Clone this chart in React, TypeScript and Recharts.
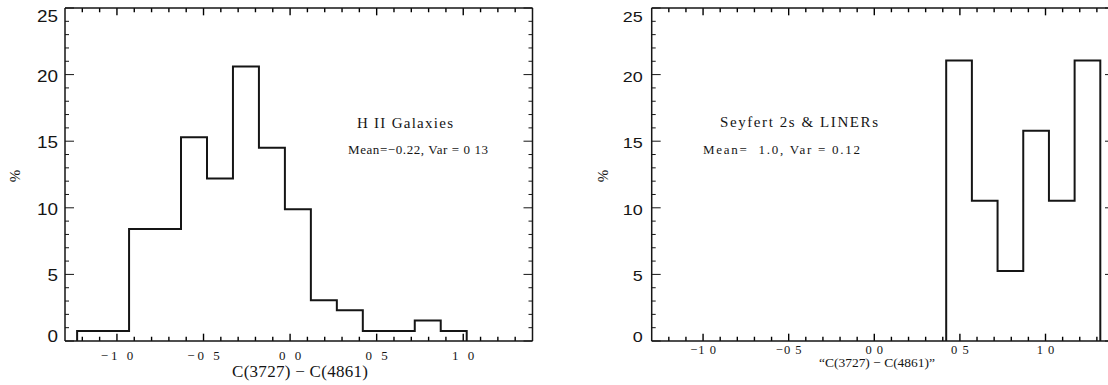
import { Line, LineChart, ReferenceLine, XAxis, YAxis } from 'recharts';

// H II galaxies: bin edges and percentages
const hiiEdges = [-1.23, -1.08, -0.93, -0.78, -0.63, -0.48, -0.33, -0.18, -0.03, 0.12, 0.27, 0.42, 0.57, 0.72, 0.87, 1.02];
const hiiPercent = [0.76, 0.76, 8.4, 8.4, 15.3, 12.2, 20.6, 14.5, 9.9, 3.05, 2.3, 0.76, 0.76, 1.53, 0.76];

// Seyfert 2s & LINERs
const seyEdges = [0.42, 0.57, 0.72, 0.87, 1.02, 1.17, 1.32];
const seyPercent = [21.05, 10.53, 5.26, 15.79, 10.53, 21.05];

const xMajor = [-1, -0.5, 0, 0.5, 1];
const xMajorLabels = ['−1 0', '−0 5', '0 0', '0 5', '1 0'];
const yMajor = [0, 5, 10, 15, 20, 25];
const yMajorLabels = ['0', '5', '10', '15', '20', '25'];

const X_DOMAIN: [number, number] = [-1.3, 1.4];
const Y_DOMAIN: [number, number] = [0, 25];

const xTicks = Array.from({ length: 26 }, (_, i) => Math.round((-1.2 + i * 0.1) * 10) / 10);
const yTicks = Array.from({ length: 26 }, (_, i) => i);

const INK = '#151515';
// inward x tick lengths, in y units (1 unit ≈ 13.3 px)
const X_MAJOR_LEN = 0.55;
const X_MINOR_LEN = 0.32;

function stepPoints(edges: number[], values: number[]) {
  const pts = [{ x: edges[0], y: 0 }];
  values.forEach((v, i) => pts.push({ x: edges[i], y: v }));
  pts.push({ x: edges[edges.length - 1], y: 0 });
  return pts;
}

const majorIndex = (list: number[], v: number) => list.findIndex((m) => Math.abs(m - v) < 1e-6);

interface PanelStyle {
  xFont: number;
  xSpacing: number;
  xDy: number;
  yFont: number;
  yCharW: number;
  yGap: number;
}

function makeTicks(s: PanelStyle) {
  const Bottom = (p: any) => {
    const idx = majorIndex(xMajor, p.payload.value);
    if (idx < 0) return <g />;
    return (
      <text
        x={p.x + s.xSpacing / 2}
        y={p.y + s.xDy}
        textAnchor="middle"
        fontFamily="'Liberation Serif', serif"
        fontSize={s.xFont}
        letterSpacing={s.xSpacing}
        fill={INK}
      >
        {xMajorLabels[idx]}
      </text>
    );
  };
  const Left = (p: any) => {
    const idx = majorIndex(yMajor, p.payload.value);
    const label = idx >= 0 ? yMajorLabels[idx] : '';
    const dy = p.payload.value === 25 ? 14 : p.payload.value === 0 ? 1 : 7;
    return (
      <g>
        <line x1={p.x} x2={p.x + (idx >= 0 ? 9 : 4)} y1={p.y} y2={p.y} stroke={INK} strokeWidth={1} />
        {idx >= 0 && (
          <text
            x={p.x - s.yGap}
            y={p.y + dy}
            textAnchor="end"
            fontFamily="'Liberation Sans', sans-serif"
            fontSize={s.yFont}
            textLength={s.yCharW * label.length}
            lengthAdjust="spacingAndGlyphs"
            fill={INK}
          >
            {label}
          </text>
        )}
      </g>
    );
  };
  const Right = (p: any) => {
    const idx = majorIndex(yMajor, p.payload.value);
    return (
      <g>
        <line x1={p.x} x2={p.x - (idx >= 0 ? 9 : 4)} y1={p.y} y2={p.y} stroke={INK} strokeWidth={1} />
      </g>
    );
  };
  return { Bottom, Left, Right };
}

// axis band sizes (ticks are drawn at the plot edge since tickSize/tickMargin are 0)
const LEFT_W = 30;
const BOTTOM_H = 30;
const TOP_H = 4;
const RIGHT_W = 4;

function Panel({
  left,
  plot,
  data,
  style,
}: {
  left: number;
  plot: { top: number; right: number; bottom: number; left: number };
  data: { x: number; y: number }[];
  style: PanelStyle;
}) {
  const t = makeTicks(style);
  const axisLine = { stroke: INK, strokeWidth: 1.5 };
  const margin = {
    top: plot.top - TOP_H,
    right: plot.right - RIGHT_W,
    bottom: plot.bottom - BOTTOM_H,
    left: plot.left - LEFT_W,
  };
  return (
    <div style={{ position: 'absolute', left, top: 0 }}>
      <LineChart width={560} height={385} data={data} margin={margin}>
        <XAxis
          dataKey="x"
          type="number"
          domain={X_DOMAIN}
          allowDataOverflow
          ticks={xTicks}
          interval={0}
          height={BOTTOM_H}
          tickSize={0}
          tickMargin={0}
          tickLine={false}
          axisLine={axisLine}
          tick={(p: any) => <t.Bottom {...p} />}
        />
        <XAxis
          xAxisId="top"
          dataKey="x"
          orientation="top"
          type="number"
          domain={X_DOMAIN}
          allowDataOverflow
          ticks={xMajor}
          height={TOP_H}
          tickLine={false}
          tick={false}
          axisLine={axisLine}
        />
        <YAxis
          type="number"
          domain={Y_DOMAIN}
          allowDataOverflow
          ticks={yTicks}
          interval={0}
          width={LEFT_W}
          tickSize={0}
          tickMargin={0}
          tickLine={false}
          axisLine={axisLine}
          tick={(p: any) => <t.Left {...p} />}
        />
        <YAxis
          yAxisId="r"
          orientation="right"
          type="number"
          domain={Y_DOMAIN}
          allowDataOverflow
          ticks={yTicks}
          interval={0}
          width={RIGHT_W}
          tickSize={0}
          tickMargin={0}
          tickLine={false}
          axisLine={axisLine}
          tick={(p: any) => <t.Right {...p} />}
        />
        {/* inward x tick marks on bottom and top frame edges */}
        {xTicks.map((v) => {
          const len = majorIndex(xMajor, v) >= 0 ? X_MAJOR_LEN : X_MINOR_LEN;
          return (
            <ReferenceLine
              key={`b${v}`}
              segment={[
                { x: v, y: 0 },
                { x: v, y: len },
              ]}
              stroke="#000"
              strokeWidth={1.4}
              ifOverflow="visible"
            />
          );
        })}
        {xTicks.map((v) => {
          const len = majorIndex(xMajor, v) >= 0 ? X_MAJOR_LEN : X_MINOR_LEN;
          return (
            <ReferenceLine
              key={`t${v}`}
              segment={[
                { x: v, y: 25 },
                { x: v, y: 25 - len },
              ]}
              stroke="#000"
              strokeWidth={1.4}
              ifOverflow="visible"
            />
          );
        })}
        {/* invisible twin so the top/right frame axes share the same scales */}
        <Line
          xAxisId="top"
          yAxisId="r"
          type="stepAfter"
          dataKey="y"
          stroke="none"
          dot={false}
          activeDot={false}
          isAnimationActive={false}
        />
        <Line
          type="stepAfter"
          dataKey="y"
          stroke={INK}
          strokeWidth={2}
          dot={false}
          activeDot={false}
          isAnimationActive={false}
        />
      </LineChart>
    </div>
  );
}

const serif = "'Liberation Serif', serif";

export default function App() {
  const hiiData = stepPoints(hiiEdges, hiiPercent);
  const seyData = stepPoints(seyEdges, seyPercent);
  return (
    <div
      style={{
        position: 'absolute',
        left: 0,
        top: 0,
        width: 1108,
        height: 385,
        overflow: 'hidden',
        background: '#fff',
      }}
    >
      <Panel
        left={0}
        plot={{ top: 8, right: 27.5, bottom: 44, left: 65 }}
        data={hiiData}
        style={{ xFont: 13, xSpacing: 3, xDy: 19, yFont: 16, yCharW: 10.5, yGap: 7 }}
      />
      <Panel
        left={560}
        plot={{ top: 8, right: 6, bottom: 44, left: 91.7 }}
        data={seyData}
        style={{ xFont: 12.5, xSpacing: 1, xDy: 12.5, yFont: 15, yCharW: 10, yGap: 9 }}
      />
      <svg
        width={1108}
        height={385}
        style={{ position: 'absolute', left: 0, top: 0, pointerEvents: 'none' }}
      >
        <g fontFamily={serif} fill={INK}>
          <text x={405} y={128} fontSize={15} textAnchor="middle" textLength={96} lengthAdjust="spacing">
            H II Galaxies
          </text>
          <text x={418} y={154} fontSize={13} textAnchor="middle" textLength={140} lengthAdjust="spacing">
            Mean=−0.22, Var = 0 13
          </text>
          <text x={300} y={377} fontSize={17} textAnchor="middle" textLength={136} lengthAdjust="spacing">
            C(3727) − C(4861)
          </text>
          <text x={799} y={126.5} fontSize={15} textAnchor="middle" textLength={158} lengthAdjust="spacing">
            Seyfert 2s &amp; LINERs
          </text>
          <text x={781.5} y={153.5} fontSize={13} textAnchor="middle" textLength={157} lengthAdjust="spacing">
            {'Mean=\u00a0\u00a01.0, Var = 0.12'}
          </text>
          <text x={877} y={367} fontSize={13.5} textAnchor="middle" textLength={116} lengthAdjust="spacing">
            “C(3727) − C(4861)”
          </text>
          <text x={20} y={176} fontSize={15} textAnchor="middle" transform="rotate(-90 20 176)">
            %
          </text>
          <text x={608} y={176} fontSize={15} textAnchor="middle" transform="rotate(-90 608 176)">
            %
          </text>
        </g>
      </svg>
    </div>
  );
}
